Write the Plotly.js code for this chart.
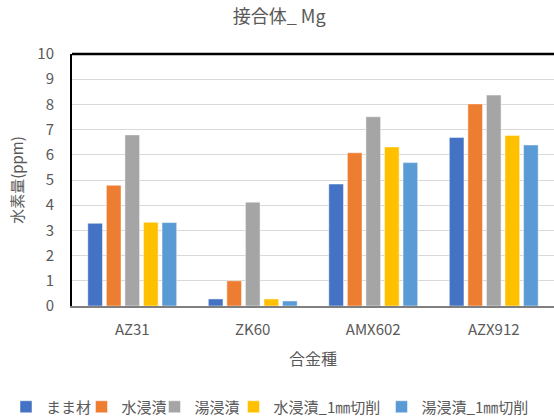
<!DOCTYPE html>
<html>
<head>
<meta charset="utf-8">
<script src="https://cdn.plot.ly/plotly-3.0.1.min.js"></script>
<style>html,body{margin:0;padding:0;background:#fff;}#chart{width:554px;height:418px;}</style>
</head>
<body>
<div id="chart"></div>
<script>
const categories = ["AZ31", "ZK60", "AMX602", "AZX912"];
const seriesNames = ["まま材", "水浸漬", "湯浸漬", "水浸漬_1㎜切削", "湯浸漬_1㎜切削"];
const mamazai   = [3.28, 0.28, 4.84, 6.69];
const mizu      = [4.79, 1.00, 6.08, 8.02];
const yu        = [6.79, 4.12, 7.51, 8.37];
const mizuCut   = [3.32, 0.28, 6.31, 6.77];
const yuCut     = [3.31, 0.20, 5.69, 6.39];
const colors = ["#4472C4", "#ED7D31", "#A5A5A5", "#FFC000", "#5B9BD5"];
const yTicks = [0,1,2,3,4,5,6,7,8,9,10];

const values = [mamazai, mizu, yu, mizuCut, yuCut];
const font = "'Noto Sans CJK JP', 'Noto Sans', sans-serif";
const grey = "#595959";
const W = 554, H = 418;

// legend symbol centres (px) in the reference, one legend box per series
const legendCentres = [30, 105.5, 178.5, 257.5, 405.5];
const legendIds = ["legend", "legend2", "legend3", "legend4", "legend5"];

const traces = values.map((v, i) => ({
  type: "bar",
  name: seriesNames[i],
  x: categories,
  y: v,
  legend: legendIds[i],
  marker: {color: colors[i], line: {color: "rgba(255,255,255,0.6)", width: 0.8}},
  hoverinfo: "skip"
}));

const layout = {
  width: W, height: H,
  margin: {l: 72, r: 0, t: 54, b: 112},
  paper_bgcolor: "#fff", plot_bgcolor: "#fff",
  font: {family: font, color: grey, size: 15},
  barmode: "group",
  bargap: 0.23,
  bargroupgap: 0.21,
  title: {text: "接合体_ Mg", x: 0.504, xanchor: "center", y: 0.959, yanchor: "middle", xref: "container", yref: "container",
          font: {family: font, size: 18, color: grey}},
  xaxis: {
    showline: true, linecolor: "#7f7f7f", linewidth: 2,
    showgrid: false, zeroline: false,
    tickfont: {family: font, size: 15, color: grey},
    ticks: "", ticklabelstandoff: 9,
    title: {text: "合金種", font: {family: font, size: 16, color: grey}, standoff: 16}
  },
  yaxis: {
    range: [0, 10], tickvals: yTicks, ticktext: yTicks.map(String),
    showline: true, linecolor: "#000", linewidth: 2,
    showgrid: true, gridcolor: "#d9d9d9", gridwidth: 1,
    zeroline: false,
    tickfont: {family: font, size: 15, color: grey},
    ticks: "", ticklabelstandoff: 13,
    title: {text: "水素量(ppm)", font: {family: font, size: 15, color: grey}, standoff: 10}
  },
  shapes: [{type: "line", xref: "paper", yref: "paper", x0: 0, x1: 1, y0: 1, y1: 1,
            line: {color: "#000", width: 2.5}}],
  showlegend: true
};

legendIds.forEach((id, i) => {
  layout[id] = {
    orientation: "h", xref: "container", yref: "container",
    x: (legendCentres[i] - 24) / W, xanchor: "left",
    y: 1 - 407 / H, yanchor: "middle",
    font: {family: font, size: 15, color: grey},
    bgcolor: "rgba(0,0,0,0)", itemwidth: 30
  };
});

Plotly.newPlot("chart", traces, layout, {staticPlot: true, displayModeBar: false});
</script>
</body>
</html>
